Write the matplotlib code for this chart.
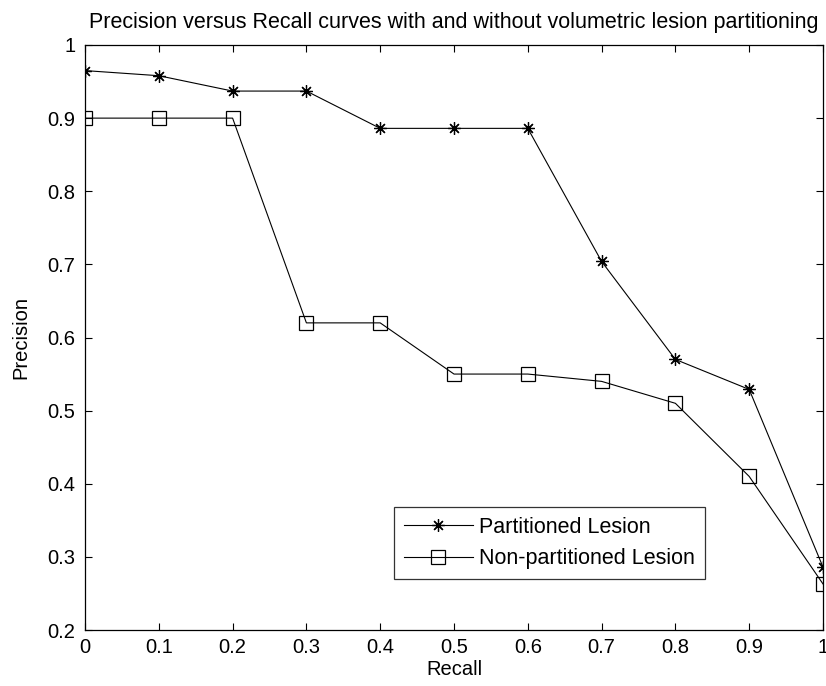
import matplotlib
matplotlib.use('Agg')
import matplotlib.pyplot as plt

plt.rcParams['font.family'] = ['Liberation Sans', 'DejaVu Sans']

recall = [0, 0.1, 0.2, 0.3, 0.4, 0.5, 0.6, 0.7, 0.8, 0.9, 1.0]
prec_partitioned = [0.965, 0.958, 0.937, 0.937, 0.886, 0.886, 0.886, 0.704, 0.570, 0.529, 0.286]
prec_nonpartitioned = [0.90, 0.90, 0.90, 0.62, 0.62, 0.55, 0.55, 0.54, 0.51, 0.41, 0.263]

xticks = [0, 0.1, 0.2, 0.3, 0.4, 0.5, 0.6, 0.7, 0.8, 0.9, 1]
yticks = [0.2, 0.3, 0.4, 0.5, 0.6, 0.7, 0.8, 0.9, 1]

fig = plt.figure(figsize=(8.26, 6.86), dpi=100)
ax = fig.add_axes([85/826, 56/686, 738/826, 585/686])

ax.plot(recall, prec_partitioned, color='black', linewidth=0.8,
        marker=(8, 2, 0), markersize=9, markeredgewidth=0.9, label='Partitioned Lesion')
ax.plot(recall, prec_nonpartitioned, color='black', linewidth=0.8,
        marker='s', markersize=10, markerfacecolor='none', markeredgewidth=0.9,
        label='Non-partitioned Lesion')

ax.set_xlim(0, 1)
ax.set_ylim(0.2, 1)
ax.set_xticks(xticks)
ax.set_xticklabels(['0', '0.1', '0.2', '0.3', '0.4', '0.5', '0.6', '0.7', '0.8', '0.9', '1'])
ax.set_yticks(yticks)
ax.set_yticklabels(['0.2', '0.3', '0.4', '0.5', '0.6', '0.7', '0.8', '0.9', '1'])
ax.tick_params(direction='in', top=True, right=True, length=5, width=0.8, labelsize=14.5)
ax.tick_params(axis='x', pad=6)
ax.tick_params(axis='y', pad=7)
for s in ax.spines.values():
    s.set_linewidth(0.9)

ax.set_xlabel('Recall', fontsize=14.5, labelpad=2)
ax.set_ylabel('Precision', fontsize=14.5, labelpad=12)
ax.set_title('Precision versus Recall curves with and without volumetric lesion partitioning',
             fontsize=15.5, pad=12)

leg = ax.legend(loc='lower left', bbox_to_anchor=(394/826, 107/686), bbox_transform=fig.transFigure,
                fontsize=15.5, frameon=True, fancybox=False, edgecolor='black',
                handlelength=3.2, borderpad=0.45, labelspacing=0.5, handletextpad=0.3,
                borderaxespad=0)
leg.get_frame().set_linewidth(0.9)

fig.savefig('out.png', dpi=100)
